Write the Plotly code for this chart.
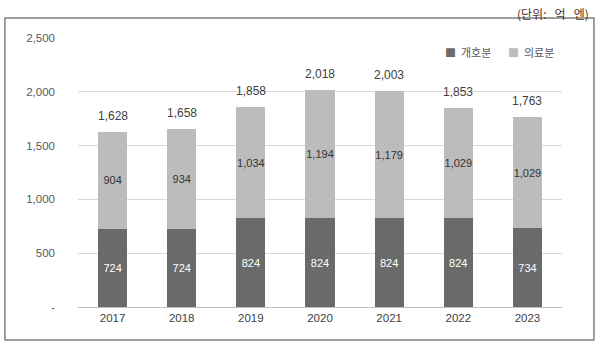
import plotly.graph_objects as go

years = ["2017", "2018", "2019", "2020", "2021", "2022", "2023"]
care = [724, 724, 824, 824, 824, 824, 734]
medical = [904, 934, 1034, 1194, 1179, 1029, 1029]
totals = [1628, 1658, 1858, 2018, 2003, 1853, 1763]
tick_vals = [0, 500, 1000, 1500, 2000, 2500]
tick_text = ["-", "500", "1,000", "1,500", "2,000", "2,500"]
series_names = ["개호분", "의료분"]
series_colors = ["#6a6a6a", "#bcbcbc"]

FONT = "Liberation Sans, Noto Sans CJK KR, sans-serif"
KFONT = "Noto Sans CJK KR, sans-serif"

fig = go.Figure()
fig.add_trace(go.Bar(
    x=years, y=care, name=series_names[0], marker_color=series_colors[0], marker_line_width=0,
    text=[f"{v:,}" for v in care], textposition="inside", insidetextanchor="middle",
    textangle=0, constraintext="none",
    textfont=dict(color="#ffffff", size=11, family=FONT), width=0.42,
))
fig.add_trace(go.Bar(
    x=years, y=medical, name=series_names[1], marker_color=series_colors[1], marker_line_width=0,
    text=[f"{v:,}" for v in medical], textposition="inside", insidetextanchor="middle",
    textangle=0, constraintext="none",
    textfont=dict(color="#333333", size=11, family=FONT), width=0.42,
))

# category axis: annotation x is the category's serial index
for i, tot in enumerate(totals):
    fig.add_annotation(x=i, y=tot, text=f"{tot:,}", showarrow=False,
                       yanchor="middle", yshift=16,
                       font=dict(color="#404040", size=12, family=FONT))

# legend drawn as text entries (tighter symbol-to-text spacing like the original)
for k, (nm, col) in enumerate(zip(series_names, series_colors)):
    fig.add_annotation(xref="paper", yref="paper", x=0.754 + k * 0.131, y=0.948,
                       xanchor="left", yanchor="middle", showarrow=False,
                       text=f"<span style='color:{col}'>■</span>&nbsp; {nm}",
                       font=dict(family=KFONT, size=11, color="#595959"))

fig.update_layout(
    width=600, height=345, barmode="stack",
    margin=dict(l=78, r=38, t=38, b=38),
    paper_bgcolor="white", plot_bgcolor="white",
    font=dict(family=FONT, size=11, color="#595959"),
    showlegend=False,
    xaxis=dict(type="category", showgrid=False, showline=True, linecolor="#bfbfbf", linewidth=1,
               tickfont=dict(size=11.5, color="#404040"), ticks=""),
    yaxis=dict(range=[0, 2500], tickvals=tick_vals, ticktext=tick_text,
               showgrid=True, gridcolor="#d9d9d9", gridwidth=1, zeroline=False,
               tickfont=dict(size=11.5, color="#595959"), ticks="", ticklabelstandoff=22),
)

fig.add_shape(type="rect", xref="paper", yref="paper",
              x0=-0.151, x1=1.066, y0=-0.123, y1=1.074,
              line=dict(color="#7f7f7f", width=1.5), fillcolor="rgba(0,0,0,0)", layer="below")
fig.add_annotation(xref="paper", yref="paper", x=1.06, y=1.13, xanchor="right", yanchor="top",
                   text="(단위:&nbsp;&nbsp; 억&nbsp;&nbsp; 엔)", showarrow=False,
                   font=dict(family=KFONT, size=12, color="#4a2f22"))

fig.write_html("out.html")
